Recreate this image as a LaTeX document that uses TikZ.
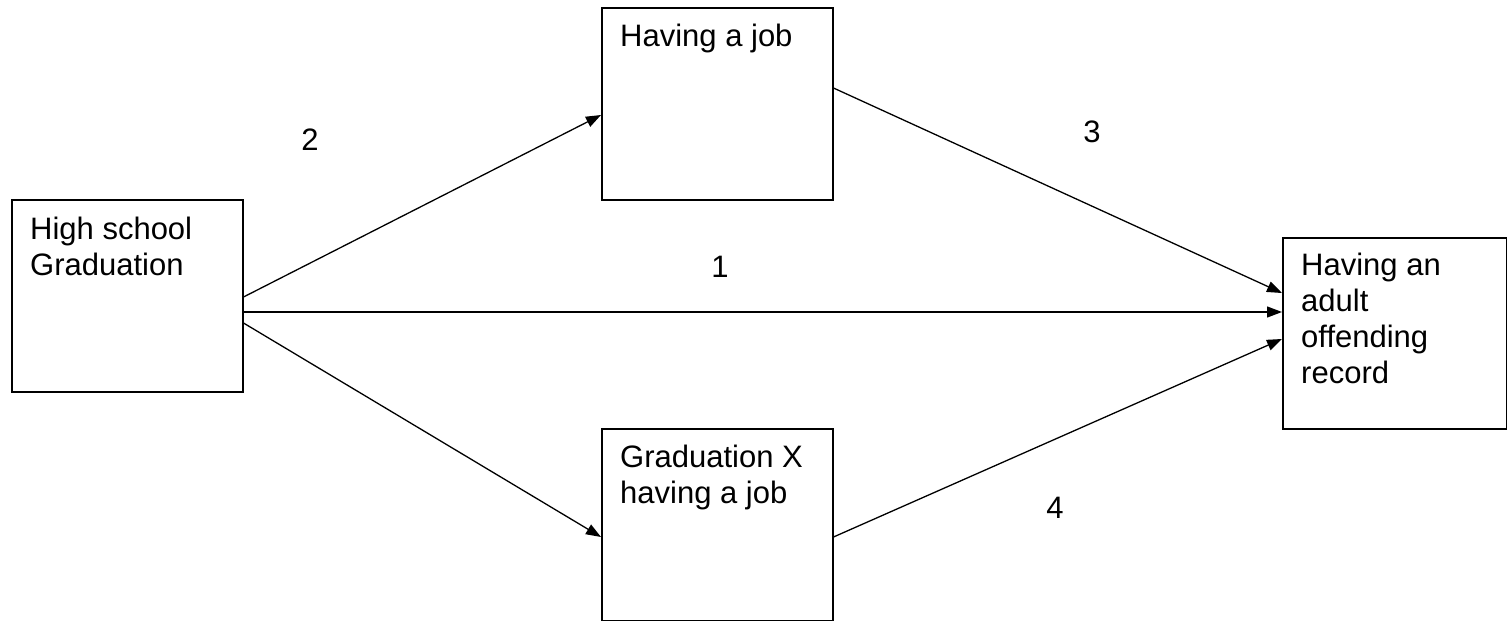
\documentclass[tikz,border=0pt]{standalone}
\usepackage{fontspec}
\setmainfont{Liberation Sans}
\usetikzlibrary{arrows.meta}
\begin{document}
\begin{tikzpicture}[x=1pt,y=-1pt,
  box/.style={draw, line width=1.5pt, rectangle, inner sep=0pt, anchor=north west},
  boxtext/.style={anchor=north west, inner sep=0pt, align=left, font=\fontsize{31}{36}\selectfont},
  num/.style={font=\fontsize{31}{36}\selectfont, inner sep=0pt},
  link/.style={line width=1.3pt, -{Triangle[length=15pt,width=11pt]}}]
\useasboundingbox (0,0) rectangle (1507,621);
% boxes
\node[box, minimum width=231pt, minimum height=192pt] (hs) at (11,199) {};
\node[box, minimum width=231pt, minimum height=192pt] (job) at (601,7) {};
\node[box, minimum width=231pt, minimum height=192pt] (gx) at (601,428) {};
\node[box, minimum width=224pt, minimum height=191pt] (adult) at (1282,237) {};
% texts
\node[boxtext] (hst) at ([xshift=19pt,yshift=-18pt]hs.north west) {High school\\Graduation};
\node[boxtext] (jobt) at ([xshift=19pt,yshift=-17pt]job.north west) {Having a job};
\node[boxtext] (gxt) at ([xshift=19pt,yshift=-17pt]gx.north west) {Graduation X\\having a job};
\node[boxtext] (adultt) at ([xshift=19pt,yshift=-16pt]adult.north west) {Having an\\adult\\offending\\record};
% connectors
\draw[link] ([yshift=-98pt]hs.north east) -- ([yshift=-108pt]job.north west);
\draw[link] ([yshift=-113pt]hs.north east) -- ([yshift=-75pt]adult.north west);
\draw[link] ([yshift=-124pt]hs.north east) -- ([yshift=-109pt]gx.north west);
\draw[link] ([yshift=-81pt]job.north east) -- ([yshift=-56pt]adult.north west);
\draw[link] ([yshift=-109pt]gx.north east) -- ([yshift=-102pt]adult.north west);
% labels
\node[num] (l2) at (310,140) {2};
\node[num] (l3) at (1092,132) {3};
\node[num] (l1) at (720,267) {1};
\node[num] (l4) at (1055,508) {4};
\end{tikzpicture}
\end{document}
